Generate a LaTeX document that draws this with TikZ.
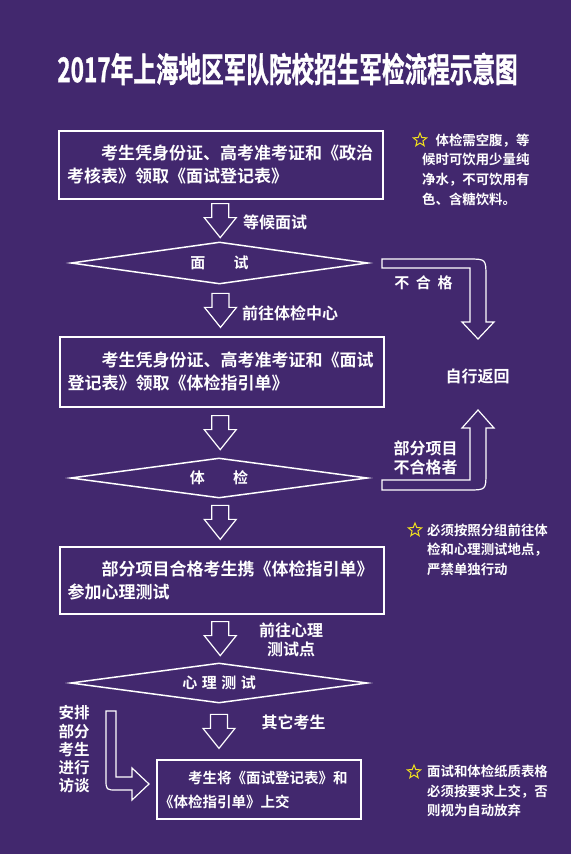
\documentclass[tikz,border=0pt]{standalone}
\usepackage{fontspec}
\setmainfont{Noto Sans CJK SC}[BoldFont={* Bold}]
\newfontfamily\titlefont{Noto Sans CJK SC Bold}[FakeBold=1.2]
\usepackage{tikz}
\usetikzlibrary{shapes.geometric,calc}

\definecolor{bgpurple}{RGB}{66,40,110}
\definecolor{staryellow}{RGB}{240,224,30}

\tikzset{
  blockline/.style={draw=white,line width=1.2pt},
  downblock/.pic={
    \draw[blockline] (-8.5,-17) -- (8.5,-17) -- (8.5,-3) -- (16,-3) -- (0,17) -- (-16,-3) -- (-8.5,-3) -- cycle;
  }
}

\begin{document}
\begin{tikzpicture}[x=1pt,y=-1pt,
    stepbox/.style={draw=white,line width=2pt,inner sep=0pt,minimum width=324pt,text width=308pt,align=left,text=white,font=\fontsize{17}{23}\selectfont\bfseries},
    gate/.style={diamond,shape aspect=7,draw=white,line width=1.5pt,inner sep=0pt,minimum width=297pt,text=white,font=\fontsize{15}{15}\selectfont\bfseries},
    lbl/.style={inner sep=0pt,align=center,text=white,font=\fontsize{16}{19}\selectfont\bfseries},
    note/.style={inner sep=0pt,align=left,anchor=west,text=white,font=\fontsize{13.4}{19.6}\selectfont\bfseries},
    notestar/.style={star,star points=5,star point ratio=2.3,draw=staryellow,line width=1pt,minimum size=14pt,inner sep=0pt}]
  \fill[bgpurple] (0,0) rectangle (571,854);
  \useasboundingbox (0,0) rectangle (571,854);

  \node[text=white,xscale=0.665,inner sep=0pt,font=\fontsize{34}{34}\selectfont\titlefont] (title) at (287.5,69) {2017年上海地区军队院校招生军检流程示意图};

  % main flow
  \node[stepbox,minimum height=68pt] (apply) at (221,165) {\hspace*{2em}考生凭身份证、高考准考证和《政治\\考核表》领取《面试登记表》};
  \node[gate,minimum height=42pt] (interview) at (219.5,263) {面\hspace{1.9em}试};
  \node[stepbox,minimum height=70pt] (guide) at (221.5,372) {\hspace*{2em}考生凭身份证、高考准考证和《面试\\登记表》领取《体检指引单》};
  \node[gate,minimum height=40pt] (exam) at (219,478) {体\hspace{1.9em}检};
  \node[stepbox,minimum height=67pt] (pass) at (221.5,580.5) {\hspace*{2em}部分项目合格考生携《体检指引单》\\参加心理测试};
  \node[gate,minimum height=40pt] (psych) at (219,683) {心\hspace{0.3em}理\hspace{0.3em}测\hspace{0.3em}试};
  \node[stepbox,minimum height=59pt,minimum width=204pt,text width=200pt,font=\fontsize{14.5}{24}\selectfont\bfseries] (submit) at (259,789.5) {\hspace*{2em}考生将《面试登记表》和\\《体检指引单》上交};

  \pic at ($(apply.south)!0.5!(interview.north)$) {downblock};
  \pic at ($(interview.south)!0.5!(guide.north)$) {downblock};
  \pic at ($(guide.south)!0.5!(exam.north)$) {downblock};
  \pic at ($(exam.south)!0.5!(pass.north)$) {downblock};
  \pic at ($(pass.south)!0.5!(psych.north)$) {downblock};
  \coordinate (lastmid) at ($(psych.south)!0.5!(submit.north)$);
  \pic at (lastmid -| psych.south) {downblock};

  \node[lbl] (wait) at (275,222) {等候面试};
  \node[lbl] (tocenter) at (290,313) {前往体检中心};
  \node[lbl] (topsych) at (291,640) {前往心理\\测试点};
  \node[lbl] (others) at (293.5,722) {其它考生};

  % going home
  \node[lbl] (home) at (477.5,376) {自行返回};
  \node[lbl,font=\fontsize{15}{19}\selectfont\bfseries] (fail) at (423.5,283) {不\hspace{0.45em}合\hspace{0.45em}格};
  \node[lbl] (partfail) at (425.5,457.5) {部分项目\\不合格者};
  \draw[blockline] (382,259) -- (468,259) .. controls (486,259) .. (486,277) -- (486,322) -- (494,322) -- (478,339) -- (462,322) -- (470,322) -- (470,268) -- (382,268) -- cycle;
  \draw[blockline] (382,480) -- (470,480) -- (470,428) -- (462,428) -- (478,410) -- (494,428) -- (486,428) -- (486,472) .. controls (486,490) .. (468,490) -- (382,490) -- cycle;

  % talk
  \node[lbl,font=\fontsize{15.5}{18.3}\selectfont\bfseries] (talk) at (74,749.5) {安排\\部分\\考生\\进行\\访谈};
  \draw[blockline] (106,711) -- (116,711) -- (116,777) -- (132,777) -- (132,768) -- (149,784) -- (132,800) -- (132,790) -- (117,790) .. controls (106,790) .. (106,779) -- cycle;

  % notes
  \node[notestar] (star1) at (420,140) {};
  \node[note] (note1) at (422,169.5) {\hspace*{1em}体检需空腹，等\\候时可饮用少量纯\\净水，不可饮用有\\色、含糖饮料。};
  \node[notestar] (star2) at (415,530) {};
  \node[note] (note2) at (427,549.5) {必须按照分组前往体\\检和心理测试地点，\\严禁单独行动};
  \node[notestar] (star3) at (414,772) {};
  \node[note] (note3) at (427,791) {面试和体检纸质表格\\必须按要求上交，否\\则视为自动放弃};
\end{tikzpicture}
\end{document}
